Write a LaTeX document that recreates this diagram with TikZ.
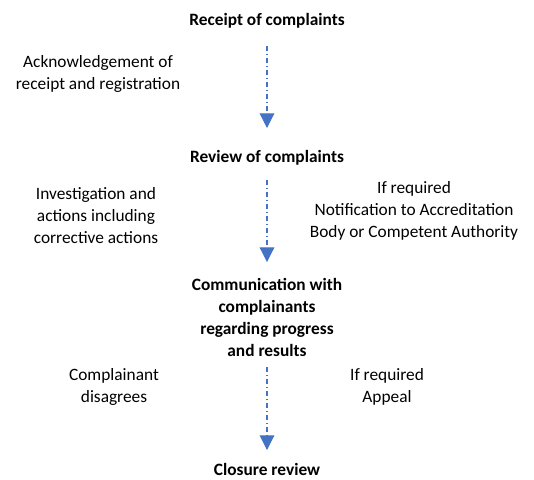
\documentclass[tikz,border=0pt]{standalone}
\usepackage{fontspec}
\setmainfont{Carlito}
\usetikzlibrary{arrows.meta}
\definecolor{flowblue}{HTML}{4472C4}
\begin{document}
\begin{tikzpicture}[x=0.75pt,y=-0.75pt,
  every node/.style={inner sep=0pt,outer sep=0pt,align=center,
    font=\fontsize{13}{16.5}\selectfont},
  stage/.style={font=\fontsize{13}{16.5}\selectfont\bfseries},
  note/.style={},
  flow/.style={draw=flowblue,line width=0.8pt,
    dash pattern=on 4pt off 2pt on 1pt off 2pt,
    -{Triangle[width=11pt,length=11pt,fill=flowblue]}}]
\useasboundingbox (0,0) rectangle (534,479);
\node[stage] (receipt) at (267,21) {Receipt of complaints};
\node[stage] (review) at (267,158) {Review of complaints};
\node[stage] (comm) at (267,317.5) {Communication with\\complainants\\regarding progress\\and results};
\node[stage] (closure) at (267,469) {Closure review};
\node[note] (ack) at (98,74) {Acknowledgement of\\receipt and registration};
\node[note] (inv) at (96,215.5) {Investigation and\\actions including\\corrective actions};
\node[note] (notif) at (414,210.5) {If required\\Notification to Accreditation\\Body or Competent Authority};
\node[note] (disagree) at (114,387) {Complainant\\disagrees};
\node[note] (appeal) at (387,387) {If required\\Appeal};
\draw[flow,shorten <=18.75pt,shorten >=22.5pt] (receipt.center) -- (review.center);
\draw[flow,shorten <=16.5pt,shorten >=41.6pt] (review.center) -- (comm.center);
\draw[flow,shorten <=37.1pt,shorten >=14.25pt] (comm.center) -- (closure.center);
\end{tikzpicture}
\end{document}
